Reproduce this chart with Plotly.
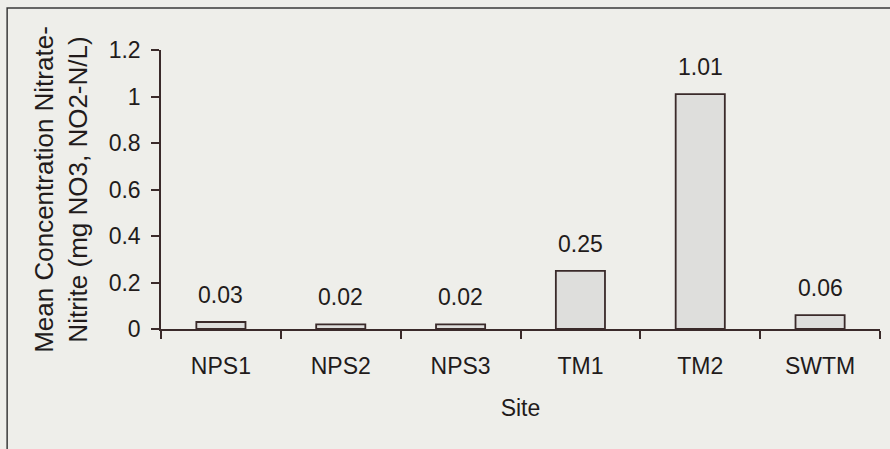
import plotly.graph_objects as go

sites = ["NPS1", "NPS2", "NPS3", "TM1", "TM2", "SWTM"]
values = [0.03, 0.02, 0.02, 0.25, 1.01, 0.06]
value_labels = ["0.03", "0.02", "0.02", "0.25", "1.01", "0.06"]

FONT = "Liberation Sans, Arial, sans-serif"
TXT = "#221b1b"
BG = "#eeeeea"
LINE = "#3a2a2a"

fig = go.Figure()
fig.add_trace(go.Bar(
    x=sites, y=values,
    marker=dict(color="#dededc", line=dict(color=LINE, width=1.8)),
    width=0.41,
    hoverinfo="x+y",
))

for s, v, t in zip(sites, values, value_labels):
    fig.add_annotation(x=s, y=v, text=t, showarrow=False, yanchor="bottom",
                       yshift=12, font=dict(family=FONT, size=23, color=TXT))

fig.update_layout(
    width=890, height=449,
    margin=dict(l=161, r=10, t=50, b=120),
    paper_bgcolor=BG, plot_bgcolor=BG,
    font=dict(family=FONT, size=23, color=TXT),
    showlegend=False,
    xaxis=dict(
        automargin=False,
        showline=True, linecolor=LINE, linewidth=1.5,
        ticks="outside", ticklen=8, tickcolor=LINE, tickwidth=1.5,
        tickson="boundaries", showgrid=False, zeroline=False,
        tickfont=dict(size=23), ticklabelstandoff=16,
        title=dict(text="Site", standoff=22, font=dict(size=23)),
    ),
    yaxis=dict(
        automargin=False,
        range=[0, 1.2], dtick=0.2, showline=True, linecolor=LINE, linewidth=1.5,
        ticks="outside", ticklen=8, tickcolor=LINE, tickwidth=1.5,
        showgrid=False, zeroline=False,
        tickfont=dict(size=23), ticklabelstandoff=6,
        title=dict(text="Mean Concentration Nitrate-<br>Nitrite (mg NO3, NO2-N/L)",
                   standoff=14, font=dict(size=26)),
    ),
    shapes=[dict(type="rect", xref="paper", yref="paper",
                 x0=-0.214, x1=1.05, y0=-0.6, y1=1.1505,
                 line=dict(color="#3a3a3a", width=1.5), layer="below")],
)

fig.write_html("out.html", config={"displayModeBar": False},
               post_script="document.body.style.margin='0';document.body.style.background='#eeeeea';")
